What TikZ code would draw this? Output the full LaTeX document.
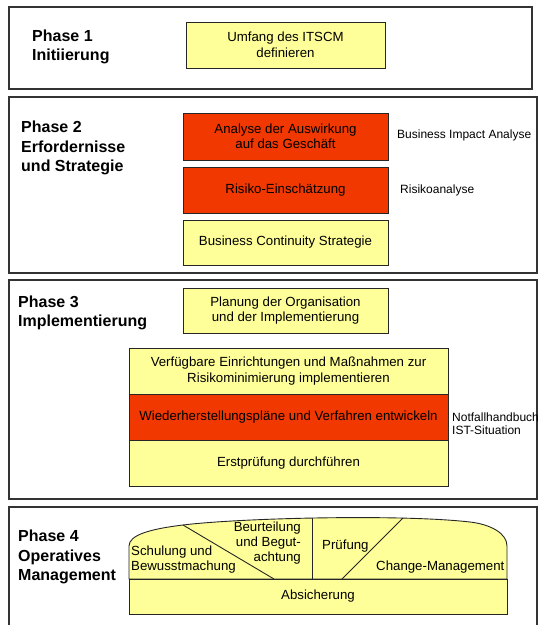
\documentclass[tikz,border=0pt]{standalone}
\usepackage{fontspec}
\setmainfont{Liberation Sans}
\definecolor{boxyellow}{RGB}{255,255,153}
\definecolor{boxred}{RGB}{240,56,0}
\begin{document}
\begin{tikzpicture}[x=1pt,y=-1pt,
  frame/.style={draw=black!80, line width=1.1pt},
  stepbox/.style={draw=black!85, line width=0.9pt},
  yel/.style={stepbox, fill=boxyellow},
  redbox/.style={stepbox, fill=boxred},
  boxtext/.style={font=\fontsize{13.25}{15.5}\selectfont, align=center, inner sep=0pt},
  sidetext/.style={font=\fontsize{12}{13.5}\selectfont, align=left, anchor=west, inner sep=0pt},
  phasetext/.style={font=\fontsize{16}{19.5}\selectfont\bfseries, align=left, anchor=west, inner sep=0pt},
  dometext/.style={font=\fontsize{13.25}{15}\selectfont, inner sep=0pt},
]
\useasboundingbox (0,0) rectangle (539,625);

% phase frames
\draw[frame] (9,7) rectangle (532,89);
\draw[frame] (9,97) rectangle (537,273);
\draw[frame] (9,280) rectangle (537,499);
\draw[frame] (9,640) -- (9,507) -- (537,507) -- (537,640);

% Phase 1
\node[phasetext] (ph1) at (32,47) {Phase 1\\Initiierung};
\node[yel, boxtext, minimum width=199pt, minimum height=46pt] (scope) at (285.5,45) {Umfang des ITSCM\\definieren};

% Phase 2
\node[phasetext] (ph2) at (21,148) {Phase 2\\Erfordernisse\\und Strategie};
\node[redbox, boxtext, minimum width=205pt, minimum height=47pt] (bia) at (285.5,136.5) {Analyse der Auswirkung\\auf das Geschäft};
\node[redbox, boxtext, minimum width=205pt, minimum height=46pt] (risk) at (285.5,190) {Risiko-Einschätzung};
\node[yel, boxtext, minimum width=205pt, minimum height=45pt] (bcs) at (285.5,242.5) {Business Continuity Strategie};
\node[sidetext] (biaL) at (397,135) {Business Impact Analyse};
\node[sidetext] (riskL) at (400,190) {Risikoanalyse};

% Phase 3
\node[phasetext] (ph3) at (18,313) {Phase 3\\Implementierung};
\node[yel, boxtext, minimum width=205pt, minimum height=45pt] (plan) at (285.5,310.5) {Planung der Organisation\\und der Implementierung};
\node[yel, boxtext, minimum width=319pt, minimum height=46pt] (impl) at (288.5,371) {Verfügbare Einrichtungen und Maßnahmen zur\\Risikominimierung implementieren};
\node[redbox, boxtext, minimum width=319pt, minimum height=46pt] (recov) at (288.5,417) {Wiederherstellungspläne und Verfahren entwickeln};
\node[yel, boxtext, minimum width=319pt, minimum height=46pt] (test) at (288.5,463) {Erstprüfung durchführen};
\node[sidetext] (recovL) at (452,423.5) {Notfallhandbuch\\IST-Situation};

% Phase 4
\node[phasetext] (ph4) at (18,557) {Phase 4\\Operatives\\Management};
\draw[stepbox, fill=boxyellow] (129,579) -- (129,546)
  .. controls (129,535) and (150,529) .. (183,525)
  .. controls (240,518) and (400,514) .. (470,522)
  .. controls (490,524.3) and (507,533) .. (507,546)
  -- (507,579) -- cycle;
\draw[stepbox] (183,525) -- (274,579);
\draw[stepbox] (312,518) -- (312,579);
\draw[stepbox] (403,518) -- (342,579);
\node[yel, boxtext, minimum width=378pt, minimum height=35pt] (assure) at (318,596.5) {Absicherung};
\node[dometext, align=left, anchor=west] (train) at (131,559.5) {Schulung und\\Bewusstmachung};
\node[dometext, align=right, anchor=east] (review) at (301,543) {Beurteilung\\und Begut-\\achtung};
\node[dometext, anchor=west] (audit) at (322,546) {Prüfung};
\node[dometext, anchor=west] (change) at (376,567) {Change-Management};
\end{tikzpicture}
\end{document}
